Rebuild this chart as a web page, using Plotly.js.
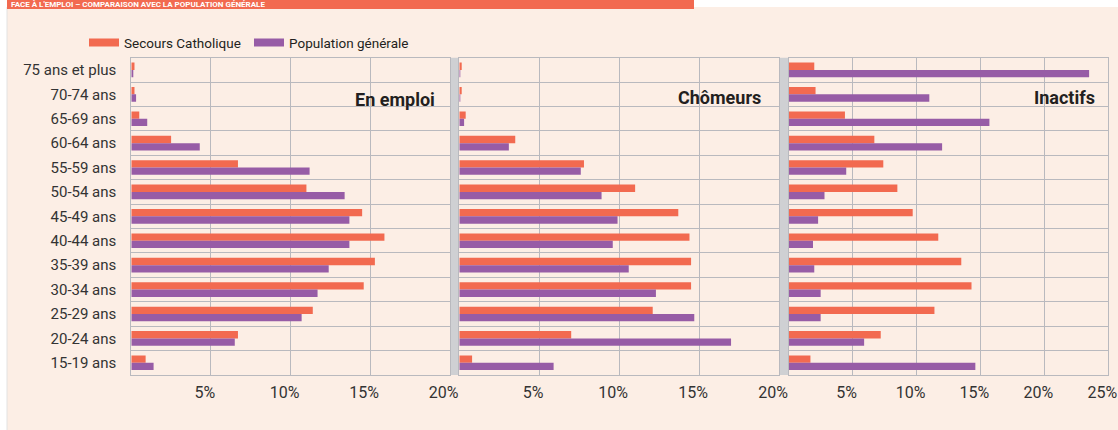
<!DOCTYPE html>
<html>
<head>
<meta charset="utf-8">
<script src="https://cdn.plot.ly/plotly-3.0.1.min.js"></script>
<style>html,body{margin:0;padding:0;background:#fff;}#chart{width:1118px;height:430px;}</style>
</head>
<body>
<div id="chart"></div>
<script>
// Age groups, top to bottom
const categories = ["75 ans et plus","70-74 ans","65-69 ans","60-64 ans","55-59 ans","50-54 ans","45-49 ans","40-44 ans","35-39 ans","30-34 ans","25-29 ans","20-24 ans","15-19 ans"];

// En emploi (%)
const emploiSecours    = [0.2, 0.2, 0.5, 2.5, 6.7, 11.0, 14.5, 15.9, 15.3, 14.6, 11.4, 6.7, 0.9];
const emploiPopulation = [0.1, 0.3, 1.0, 4.3, 11.2, 13.4, 13.7, 13.7, 12.4, 11.7, 10.7, 6.5, 1.4];

// Chômeurs (%)
const chomSecours    = [0.15, 0.15, 0.4, 3.5, 7.8, 11.0, 13.7, 14.4, 14.5, 14.5, 12.1, 7.0, 0.8];
const chomPopulation = [0.05, 0.05, 0.3, 3.1, 7.6, 8.9, 9.9, 9.6, 10.6, 12.3, 14.7, 17.0, 5.9];

// Inactifs (%)
const inactSecours    = [2.0, 2.1, 4.4, 6.7, 7.4, 8.5, 9.7, 11.7, 13.5, 14.3, 11.4, 7.2, 1.7];
const inactPopulation = [23.5, 11.0, 15.7, 12.0, 4.5, 2.8, 2.3, 1.9, 2.0, 2.5, 2.5, 5.9, 14.6];

// Tick values and labels
const ticks20 = [5, 10, 15, 20];
const ticks25 = [5, 10, 15, 20, 25];
const tickLabels20 = ["5%", "10%", "15%", "20%"];
const tickLabels25 = ["5%", "10%", "15%", "20%", "25%"];

const seriesNames = ["Secours Catholique", "Population générale"];
const panelTitles = ["En emploi", "Chômeurs", "Inactifs"];
const bannerText = "FACE À L'EMPLOI – COMPARAISON AVEC LA POPULATION GÉNÉRALE";

const W = 1118, H = 430;
const px = v => v / W;
const py = v => 1 - v / H;

const ORANGE = "#F26A50";
const PURPLE = "#975CA6";
const GRID = "#B9B9BE";
const FONT = 'Roboto, "Liberation Sans", sans-serif';
const TXT = "#333333";

function barTrace(x, name, color, xa) {
  return {
    type: "bar", orientation: "h", x: x, y: categories, name: name,
    xaxis: xa, yaxis: "y", marker: { color: color }, showlegend: false,
    hovertemplate: "%{y}: %{x}%<extra>" + name + "</extra>"
  };
}

const data = [
  barTrace(emploiSecours, seriesNames[0], ORANGE, "x"),
  barTrace(emploiPopulation, seriesNames[1], PURPLE, "x"),
  barTrace(chomSecours, seriesNames[0], ORANGE, "x2"),
  barTrace(chomPopulation, seriesNames[1], PURPLE, "x2"),
  barTrace(inactSecours, seriesNames[0], ORANGE, "x3"),
  barTrace(inactPopulation, seriesNames[1], PURPLE, "x3"),
  { type: "scatter", mode: "lines", x: [null], y: [null], name: seriesNames[0], line: { color: ORANGE, width: 8 }, hoverinfo: "skip" },
  { type: "scatter", mode: "lines", x: [null], y: [null], name: seriesNames[1], line: { color: PURPLE, width: 8 }, hoverinfo: "skip" }
];

function xAxis(domain, max, tv, tt) {
  return {
    domain: domain, range: [0, max], anchor: "y", tickmode: "array", tickvals: tv, ticktext: tt,
    showgrid: true, gridcolor: GRID, gridwidth: 1, zeroline: false,
    showline: true, linecolor: GRID, linewidth: 1, mirror: "all",
    ticks: "", ticklabelstandoff: 3, ticklabelshift: -6,
    tickfont: { family: FONT, size: 16, color: TXT }, fixedrange: true
  };
}

const layout = {
  width: W, height: H,
  margin: { l: 0, r: 0, t: 0, b: 0, pad: 0 },
  paper_bgcolor: "#ffffff",
  plot_bgcolor: "rgba(0,0,0,0)",
  barmode: "group", bargap: 0.4, bargroupgap: 0,
  font: { family: FONT, color: TXT },
  xaxis: xAxis([px(131.3), px(449.7)], 20, ticks20, tickLabels20),
  xaxis2: xAxis([px(459.3), px(779)], 20, ticks20, tickLabels20),
  xaxis3: xAxis([px(788.7), px(1108.3)], 25, ticks25, tickLabels25),
  yaxis: {
    domain: [py(375), py(57.7)], anchor: "x", type: "category",
    autorange: "reversed", tickson: "boundaries",
    showgrid: true, gridcolor: GRID, gridwidth: 1,
    showline: true, linecolor: GRID, linewidth: 1, mirror: "all",
    ticks: "", ticklabelstandoff: 11,
    tickfont: { family: FONT, size: 15, color: TXT }, fixedrange: true
  },
  legend: {
    orientation: "h", x: px(84), xanchor: "left", y: py(42.7), yanchor: "middle",
    font: { family: FONT, size: 13.5, color: "#231F20" },
    entrywidth: 120, entrywidthmode: "pixels",
    bgcolor: "rgba(0,0,0,0)", itemclick: false, itemdoubleclick: false
  },
  shapes: [
    { type: "rect", xref: "paper", yref: "paper", x0: px(7), x1: 1, y0: 0, y1: py(7), fillcolor: "#FCEEE5", line: { width: 0 }, layer: "below" },
    { type: "line", xref: "paper", yref: "paper", x0: px(7), x1: px(7), y0: 0, y1: py(7), line: { color: "#E2E2E2", width: 1 }, layer: "below" },
    { type: "rect", xref: "paper", yref: "paper", x0: px(7), x1: px(694), y0: py(9), y1: 1, fillcolor: ORANGE, line: { width: 0 }, layer: "below" },
    { type: "rect", xref: "paper", yref: "paper", x0: px(450.2), x1: px(458.8), y0: py(375), y1: py(57.7), fillcolor: "#CFD0D3", line: { width: 0 }, layer: "below" },
    { type: "rect", xref: "paper", yref: "paper", x0: px(779.5), x1: px(788.2), y0: py(375), y1: py(57.7), fillcolor: "#CFD0D3", line: { width: 0 }, layer: "below" }
  ],
  annotations: [
    { text: "<b>" + bannerText + "</b>", xref: "paper", yref: "paper", x: px(10), xanchor: "left", y: py(4.5), yanchor: "middle", showarrow: false,
      borderpad: 0, font: { family: FONT, size: 8, color: "#ffffff" } },
    { text: "<b>" + panelTitles[0] + "</b>", xref: "paper", yref: "paper", x: px(437), xanchor: "right", y: py(100), yanchor: "middle", showarrow: false,
      font: { family: FONT, size: 18, color: "#231F20" } },
    { text: "<b>" + panelTitles[1] + "</b>", xref: "paper", yref: "paper", x: px(763), xanchor: "right", y: py(98), yanchor: "middle", showarrow: false,
      font: { family: FONT, size: 18, color: "#231F20" } },
    { text: "<b>" + panelTitles[2] + "</b>", xref: "paper", yref: "paper", x: px(1097), xanchor: "right", y: py(98), yanchor: "middle", showarrow: false,
      font: { family: FONT, size: 18, color: "#231F20" } }
  ]
};

Plotly.newPlot("chart", data, layout, { displayModeBar: false, responsive: false });
</script>
</body>
</html>
